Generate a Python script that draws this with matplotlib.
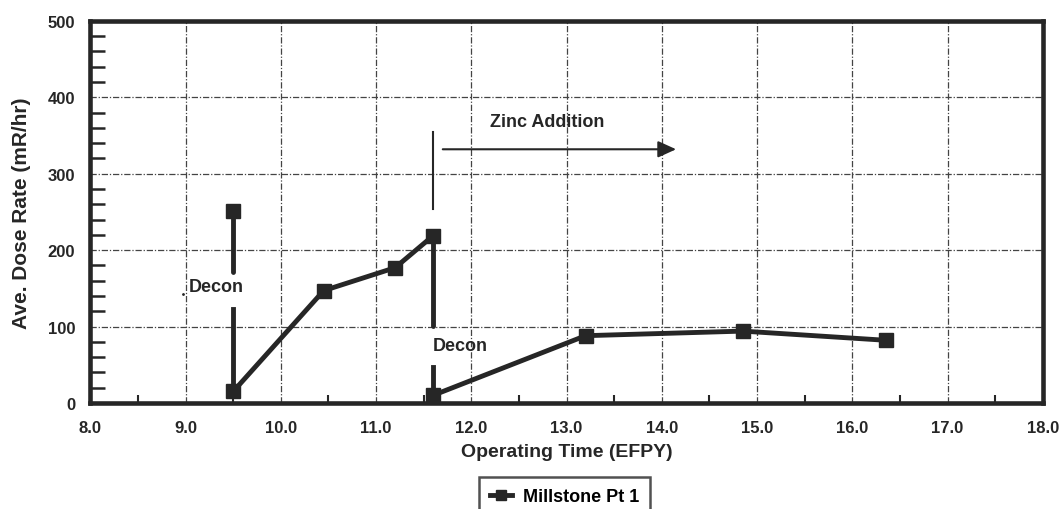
import numpy as np
import matplotlib.pyplot as plt
from matplotlib.ticker import MultipleLocator, FormatStrFormatter

plt.rcParams['font.family'] = ['Liberation Sans', 'DejaVu Sans']
plt.rcParams['font.weight'] = 'bold'
plt.rcParams['axes.labelweight'] = 'bold'

# Data
pre_time = [9.5, 10.45, 11.2, 11.6]
pre_dose = [15, 147, 177, 219]
post_time = [11.6, 13.2, 14.85, 16.35]
post_dose = [10, 88, 94, 82]
decon_before = [9.5, 251]

ink = '#262626'

fig = plt.figure(figsize=(10.63, 5.10), dpi=100)
ax = fig.add_axes([0.085, 0.208, 0.896, 0.749])

# grid
grid_style = dict(color='#444444', linewidth=0.9, linestyle=(0, (5, 1.5, 1, 1.5)))
for xv in np.arange(9, 18, 1.0):
    ax.axvline(xv, zorder=1, **grid_style)
for yv in np.arange(100, 500, 100):
    ax.axhline(yv, zorder=1, **grid_style)

# main series
ax.plot(pre_time, pre_dose, color=ink, lw=3.5, marker='s', ms=10.5, zorder=4,
        label='Millstone Pt 1')
ax.plot(post_time, post_dose, color=ink, lw=3.5, marker='s', ms=10.5, zorder=4)
ax.plot(decon_before[0], decon_before[1], color=ink, marker='s', ms=10.5, zorder=4)

# decon drops
ax.plot([9.5, 9.5], [251, 172], color=ink, lw=3.5, solid_capstyle='round', zorder=3)
ax.plot([9.5, 9.5], [123, 15], color=ink, lw=3.5, zorder=3)
ax.text(9.03, 153, 'Decon', fontsize=13, color=ink, va='center', ha='left')
ax.plot(8.97, 142, marker='.', color=ink, ms=2)

ax.plot([11.6, 11.6], [219, 101], color=ink, lw=3.5, solid_capstyle='round', zorder=3)
ax.plot([11.6, 11.6], [47, 10], color=ink, lw=3.5, zorder=3)
ax.text(11.6, 75, 'Decon', fontsize=13, color=ink, va='center', ha='left')

# zinc addition
ax.plot([11.6, 11.6], [355, 254], color=ink, lw=1.5, zorder=3)
ax.annotate('', xy=(14.15, 332), xytext=(11.7, 332),
            arrowprops=dict(arrowstyle='-|>,head_length=1.1,head_width=0.5',
                            color=ink, lw=1.5, shrinkA=0, shrinkB=0))
ax.text(12.8, 369, 'Zinc Addition', fontsize=13, color=ink, ha='center', va='center')

ax.set_xlim(8, 18)
ax.set_ylim(0, 500)
ax.xaxis.set_major_locator(MultipleLocator(1.0))
ax.xaxis.set_minor_locator(MultipleLocator(0.5))
ax.yaxis.set_major_locator(MultipleLocator(100))
ax.yaxis.set_minor_locator(MultipleLocator(20))
ax.xaxis.set_major_formatter(FormatStrFormatter('%.1f'))

ax.tick_params(axis='both', which='both', direction='in', colors=ink, labelsize=12)
ax.tick_params(axis='y', which='minor', length=11, width=1.8)
ax.tick_params(axis='y', which='major', length=0, pad=11)
ax.tick_params(axis='x', which='minor', length=6, width=1.5)
ax.tick_params(axis='x', which='major', length=0, pad=12)

for side in ax.spines.values():
    side.set_linewidth(3.3)
    side.set_color(ink)

ax.set_xlabel('Operating Time (EFPY)', fontsize=14, color=ink, labelpad=6)
ax.set_ylabel('Ave. Dose Rate (mR/hr)', fontsize=15, color=ink)
ax.yaxis.set_label_coords(-0.062, 0.50)

leg = ax.legend(loc='upper center', bbox_to_anchor=(0.498, -0.194), frameon=True,
                fancybox=False, fontsize=13, handlelength=1.2, handletextpad=0.6,
                markerscale=0.7, borderpad=0.6, borderaxespad=0)
leg.get_frame().set_edgecolor(ink)
leg.get_frame().set_linewidth(1.8)

fig.savefig('out.png', dpi=100)
